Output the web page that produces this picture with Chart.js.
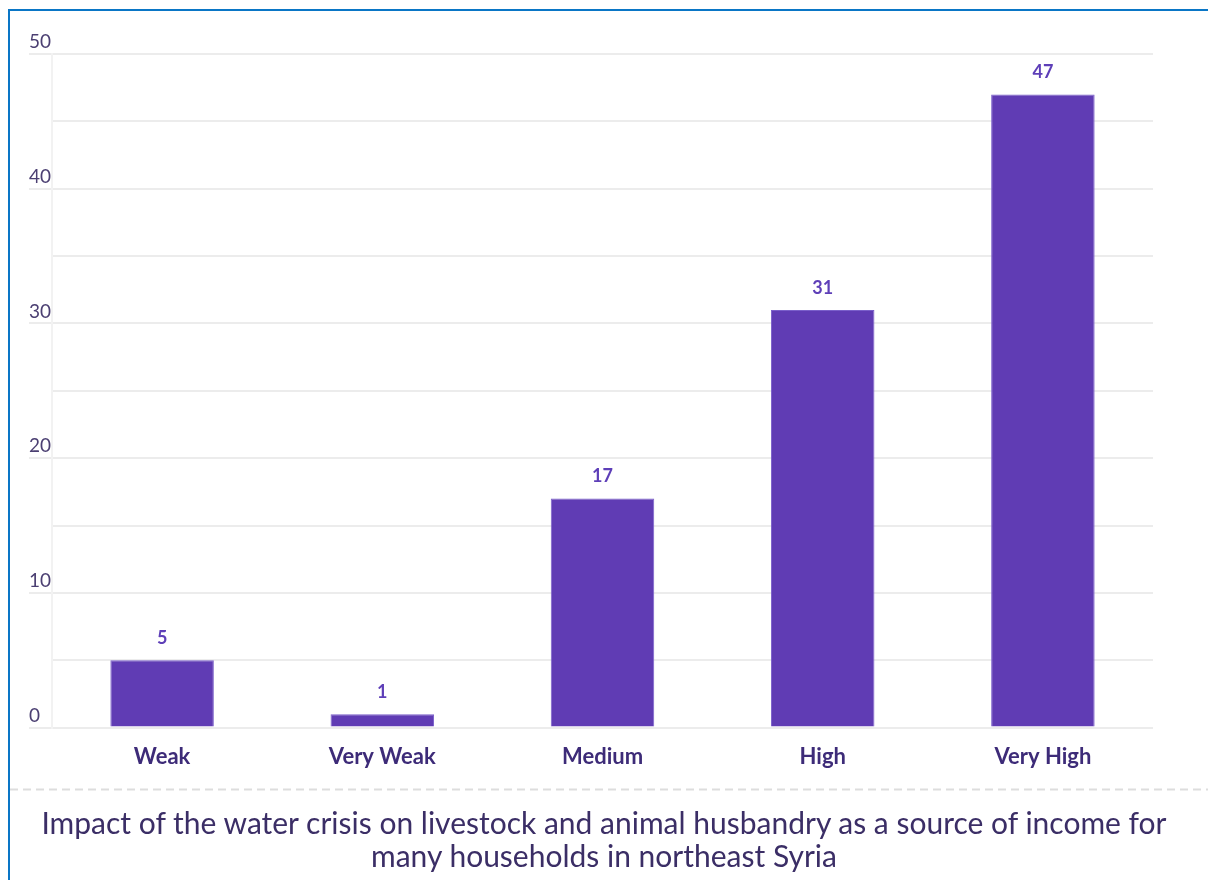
<!DOCTYPE html>
<html>
<head>
<meta charset="utf-8">
<script src="https://cdn.jsdelivr.net/npm/chart.js@4.4.1/dist/chart.umd.min.js"></script>
<style>
  html, body { margin: 0; padding: 0; background: #fff; }
  #frame {
    position: absolute; left: 8px; top: 9px; width: 1210px; height: 880px;
    border-top: 2px solid #0a76c6; border-left: 2px solid #0a76c6;
  }
  #wrap { position: absolute; left: 0; top: 0; width: 1208px; height: 880px; }
  #caption {
    position: absolute; left: 0; top: 806px; width: 1208px;
    text-align: center; font: 30px/33px Lato, "Open Sans", sans-serif; color: #3b2e66;
  }
</style>
</head>
<body>
<div id="frame"></div>
<div id="wrap"><canvas id="bar-chart"></canvas></div>
<div id="caption"></div>
<script>
const categories = ["Weak", "Very Weak", "Medium", "High", "Very High"]
const households = [5, 1, 17, 31, 47]
const yTicks = [0, 10, 20, 30, 40, 50]
const captionLines = [
    "Impact of the water crisis on livestock and animal husbandry as a source of income for",
    "many households in northeast Syria"
]

const barColor = "#603cb4"
const FONT = "Lato, 'Open Sans', sans-serif"

const caption = document.getElementById("caption")
captionLines.forEach(line => {
    const row = document.createElement("div")
    row.textContent = line
    caption.appendChild(row)
})

// value above each bar + dashed rule over the caption
const extras = {
    id: "extras",
    afterDatasetsDraw(chart) {
        const ctx = chart.ctx
        const meta = chart.getDatasetMeta(0)
        ctx.save()
        ctx.font = "bold 18px " + FONT
        ctx.fillStyle = "#5e3fb8"
        ctx.textAlign = "center"
        ctx.textBaseline = "bottom"
        meta.data.forEach((bar, i) => {
            ctx.fillText(String(households[i]), bar.x, bar.y - 13)
        })
        ctx.restore()
    },
    afterDraw(chart) {
        const ctx = chart.ctx
        const y = chart.chartArea.bottom + 62
        ctx.save()
        ctx.strokeStyle = "#dddddd"
        ctx.lineWidth = 2
        ctx.setLineDash([8, 5])
        ctx.beginPath()
        ctx.moveTo(10, y)
        ctx.lineTo(chart.width, y)
        ctx.stroke()
        ctx.restore()
    }
}

new Chart(document.getElementById("bar-chart"), {
    type: "bar",
    data: {
        labels: categories,
        datasets: [{
            data: households,
            backgroundColor: barColor,
            borderColor: "#7a5fca",
            borderWidth: 1,
            categoryPercentage: 1,
            barPercentage: 0.47,
        }]
    },
    options: {
        responsive: true,
        maintainAspectRatio: false,
        animation: false,
        layout: {
            padding: { left: 29, right: 55, top: 54, bottom: 94 }
        },
        scales: {
            x: {
                grid: { display: false, drawTicks: false },
                border: { display: false },
                ticks: {
                    padding: 16,
                    color: "#3d2b78",
                    font: { family: FONT, size: 22, weight: "bold" },
                },
            },
            y: {
                min: 0,
                max: 50,
                afterFit(scale) { scale.width = 23 },
                afterBuildTicks(scale) {
                    scale.ticks = []
                    for (let v = 0; v <= 50; v += 5) scale.ticks.push({ value: v })
                },
                grid: {
                    color: "#ececec",
                    lineWidth: 2,
                    tickLength: 23,
                    tickColor: (c) => yTicks.includes(c.tick && c.tick.value) ? "#ececec" : "rgba(0,0,0,0)",
                },
                border: { display: true, color: "#f2f2f2", width: 2 },
                ticks: {
                    crossAlign: "far",
                    labelOffset: -12,
                    padding: 0,
                    color: "#4b3f72",
                    font: { family: FONT, size: 19 },
                    callback: (v) => yTicks.includes(v) ? String(v) : "",
                },
            },
        },
        plugins: {
            legend: { display: false },
            tooltip: { enabled: false },
        },
    },
    plugins: [extras],
})
</script>
</body>
</html>
